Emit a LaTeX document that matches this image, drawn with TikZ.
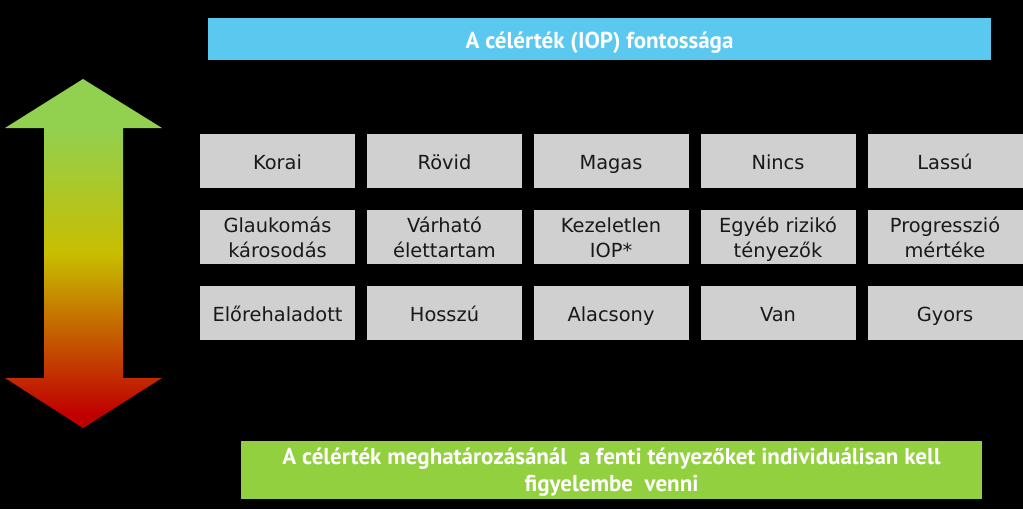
\documentclass[tikz,border=0pt]{standalone}
\usepackage{fontspec}
\setmainfont{DejaVu Sans}
\newfontfamily\titlefont{PT Sans}
\definecolor{titleblue}{RGB}{91,200,240}
\definecolor{cellgray}{RGB}{208,208,208}
\definecolor{bottomgreen}{RGB}{146,208,64}
\definecolor{arrgreen}{RGB}{146,208,80}
\definecolor{arryellow}{RGB}{200,190,0}
\definecolor{arrred}{RGB}{192,0,0}
\pgfdeclareverticalshading{arrowshade}{100bp}{color(0bp)=(arrred); color(27bp)=(arrred); color(50bp)=(arryellow); color(68bp)=(arrgreen); color(100bp)=(arrgreen)}
\tikzset{
  cell/.style={draw=none, inner sep=0pt, outer sep=0pt, minimum width=155pt, minimum height=54pt, align=center, font=\fontsize{19.4}{25}\selectfont, text=black!90, yshift=-3pt},
  banner/.style={draw=none, inner sep=0pt, outer sep=0pt, align=center, text=white, font=\titlefont\bfseries\fontsize{23}{27}\selectfont}
}
\begin{document}
\begin{tikzpicture}[x=1pt,y=-1pt]
\path[use as bounding box, fill=black] (0,0) rectangle (1023,509);
% title
\path[fill=titleblue] (208,18) rectangle (991,60);
\node[banner] (title) at (599.5,39) [yshift=-3.6pt] {A célérték (IOP) fontossága\strut};
% arrow
\path[shading=arrowshade] (83,79) -- (162,128) -- (123,128) -- (123,378) -- (162,378) -- (83,428) -- (5,378) -- (44,378) -- (44,128) -- (5,128) -- cycle;
% grid backgrounds
\foreach \cx in {277.5,444.5,611,778,945}{
  \foreach \cy in {161,237,313}{
    \path[fill=cellgray] (\cx-77.5,\cy-27) rectangle (\cx+77.5,\cy+27);
  }
}
\node[cell] (r1c1) at (277.5,161) {Korai\strut};
\node[cell] (r1c2) at (444.5,161) {Rövid\strut};
\node[cell] (r1c3) at (611,161) {Magas\strut};
\node[cell] (r1c4) at (778,161) {Nincs\strut};
\node[cell] (r1c5) at (945,161) {Lassú\strut};
\node[cell] (r2c1) at (277.5,237) {Glaukomás\strut\\károsodás\strut};
\node[cell] (r2c2) at (444.5,237) {Várható\strut\\élettartam\strut};
\node[cell] (r2c3) at (611,237) {Kezeletlen\strut\\IOP*\strut};
\node[cell] (r2c4) at (778,237) {Egyéb rizikó\strut\\tényezők\strut};
\node[cell] (r2c5) at (945,237) {Progresszió\strut\\mértéke\strut};
\node[cell] (r3c1) at (277.5,313) {Előrehaladott\strut};
\node[cell] (r3c2) at (444.5,313) {Hosszú\strut};
\node[cell] (r3c3) at (611,313) {Alacsony\strut};
\node[cell] (r3c4) at (778,313) {Van\strut};
\node[cell] (r3c5) at (945,313) {Gyors\strut};
% bottom
\path[fill=bottomgreen] (241,441) rectangle (982,499);
\node[banner] (bottom) at (611.5,470) [yshift=-3pt] {A célérték meghatározásánál\ \ a fenti tényezőket individuálisan kell\strut\\figyelembe\ \ venni\strut};
\end{tikzpicture}
\end{document}
